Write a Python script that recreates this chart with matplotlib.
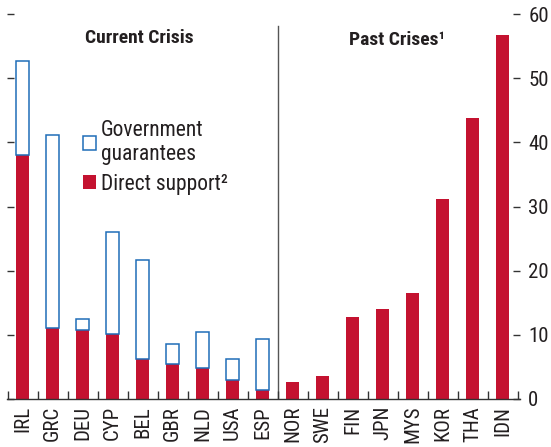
import matplotlib
matplotlib.use("Agg")
import matplotlib.pyplot as plt
from matplotlib.patches import Patch

# condensed sans to mimic the IMF look; first installed one wins
plt.rcParams['font.family'] = ['Roboto Condensed', 'Archivo Narrow', 'PT Sans Narrow',
                               'Encode Sans Condensed', 'DejaVu Sans']

# data (percent of GDP)
countries = ["IRL", "GRC", "DEU", "CYP", "BEL", "GBR", "NLD", "USA", "ESP",
             "NOR", "SWE", "FIN", "JPN", "MYS", "KOR", "THA", "IDN"]
direct_support = [38.0, 11.0, 10.7, 10.1, 6.3, 5.4, 4.8, 3.0, 1.4,
                  2.7, 3.6, 12.8, 14.0, 16.5, 31.2, 43.8, 56.8]
total_with_guarantees = [52.6, 41.2, 12.5, 26.0, 21.6, 8.5, 10.4, 6.2, 9.3,
                         None, None, None, None, None, None, None, None]
y_ticks = [0, 10, 20, 30, 40, 50, 60]

RED = "#C41230"
BLUE = "#1F6DB8"
TXT = "#231F20"

n_current = sum(1 for t in total_with_guarantees if t is not None)
x = list(range(len(countries)))
guarantees = [t - d for t, d in zip(total_with_guarantees[:n_current], direct_support[:n_current])]

fig = plt.figure(figsize=(5.51, 4.47), dpi=100)
ax = fig.add_axes([7 / 551, 48 / 447, 513 / 551, 385 / 447])

w = 0.43
ax.bar(x, direct_support, width=w, color=RED, edgecolor="none", zorder=2)
ax.bar(x[:n_current], guarantees, width=w, bottom=direct_support[:n_current],
       facecolor="white", edgecolor=BLUE, linewidth=1.1, zorder=2)

ax.set_xlim(-0.52, len(countries) - 0.42)
ax.set_ylim(0, 60)

# divider between current and past crises
ax.plot([n_current - 0.5, n_current - 0.5], [0, 58.2], color="#555555", lw=1.0, zorder=1)

for s in ["top", "left", "right"]:
    ax.spines[s].set_visible(False)
ax.spines["bottom"].set_color("#333333")
ax.spines["bottom"].set_linewidth(1.0)

ax.yaxis.tick_right()
ax.set_yticks(y_ticks)
ax.tick_params(axis="y", which="both", left=True, right=True, labelleft=False,
               labelright=True, direction="in", length=5, width=1.0,
               color="#333333", labelsize=15, labelcolor=TXT, pad=6)

ax.set_xticks(x)
ax.set_xticklabels(countries, rotation=90, fontsize=15, color=TXT)
ax.tick_params(axis="x", which="major", length=0, pad=5)
ax.set_xticks([i - 0.5 for i in range(len(countries) + 1)], minor=True)
ax.tick_params(axis="x", which="minor", direction="in", length=6, width=1.0, color="#333333")

ax.text(0.257, 0.937, "Current Crisis", transform=ax.transAxes, ha="center",
        va="center", fontsize=14, fontweight="bold", color=TXT)
ax.text(0.76, 0.932, "Past Crises\u00b9", transform=ax.transAxes, ha="center",
        va="center", fontsize=14, fontweight="bold", color=TXT)

handles = [Patch(facecolor="white", edgecolor=BLUE, linewidth=1.1),
           Patch(facecolor=RED, edgecolor="none")]
labels = ["Government\nguarantees", "Direct support\u00b2"]
ax.legend(handles, labels, loc="upper left", bbox_to_anchor=(0.148, 0.725),
          frameon=False, fontsize=15.5, handlelength=0.6, handleheight=0.6,
          handletextpad=0.25, labelspacing=0.4, borderaxespad=0, borderpad=0,
          labelcolor=TXT)

fig.savefig("out.png", dpi=100)
